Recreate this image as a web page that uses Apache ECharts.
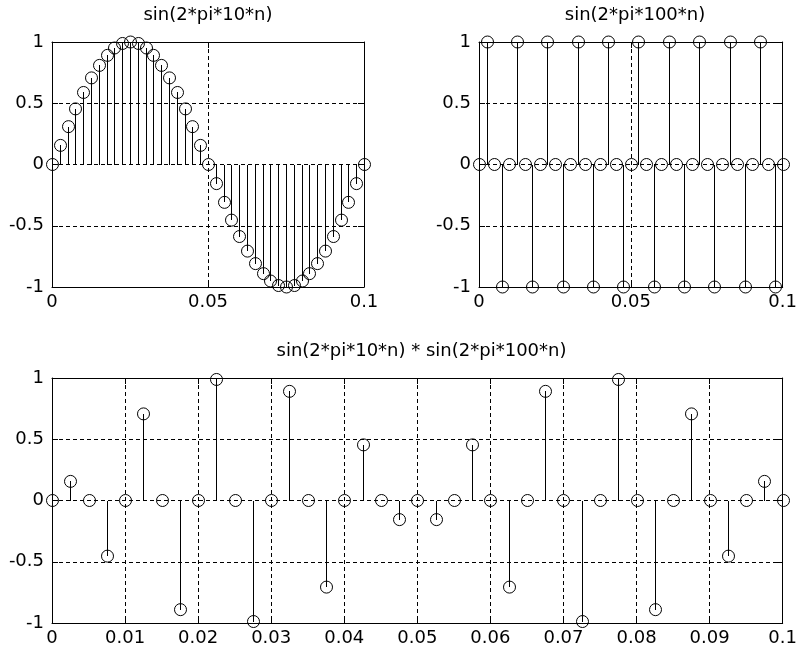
<!DOCTYPE html>
<html>
<head>
<meta charset="utf-8">
<script src="https://cdn.jsdelivr.net/npm/echarts@6/dist/echarts.min.js"></script>
<style>
  html, body { margin: 0; padding: 0; background: #fff; }
  #main { width: 800px; height: 655px; }
</style>
</head>
<body>
<div id="main"></div>
<script>
// sample times n (s)
var n = [0, 0.0025, 0.005, 0.0075, 0.01, 0.0125, 0.015, 0.0175, 0.02, 0.0225,
    0.025, 0.0275, 0.03, 0.0325, 0.035, 0.0375, 0.04, 0.0425, 0.045, 0.0475,
    0.05, 0.0525, 0.055, 0.0575, 0.06, 0.0625, 0.065, 0.0675, 0.07, 0.0725,
    0.075, 0.0775, 0.08, 0.0825, 0.085, 0.0875, 0.09, 0.0925, 0.095, 0.0975, 0.1];

// sin(2*pi*10*n)
var sin10 = [0, 0.156, 0.309, 0.454, 0.588, 0.707, 0.809, 0.891, 0.951, 0.988,
    1, 0.988, 0.951, 0.891, 0.809, 0.707, 0.588, 0.454, 0.309, 0.156,
    0, -0.156, -0.309, -0.454, -0.588, -0.707, -0.809, -0.891, -0.951, -0.988,
    -1, -0.988, -0.951, -0.891, -0.809, -0.707, -0.588, -0.454, -0.309, -0.156, 0];

// sin(2*pi*100*n)
var sin100 = [0, 1, 0, -1, 0, 1, 0, -1, 0, 1,
    0, -1, 0, 1, 0, -1, 0, 1, 0, -1,
    0, 1, 0, -1, 0, 1, 0, -1, 0, 1,
    0, -1, 0, 1, 0, -1, 0, 1, 0, -1, 0];

// sin(2*pi*10*n) * sin(2*pi*100*n)
var prod = [0, 0.156, 0, -0.454, 0, 0.707, 0, -0.891, 0, 0.988,
    0, -0.988, 0, 0.891, 0, -0.707, 0, 0.454, 0, -0.156,
    0, -0.156, 0, 0.454, 0, -0.707, 0, 0.891, 0, -0.988,
    0, 0.988, 0, -0.891, 0, 0.707, 0, -0.454, 0, 0.156, 0];

var titles = ['sin(2*pi*10*n)', 'sin(2*pi*100*n)', 'sin(2*pi*10*n) * sin(2*pi*100*n)'];
var xSteps = [0.05, 0.05, 0.01];

var FONT = 'DejaVu Sans';
var FSIZE = 18;

function pairs(xs, ys) {
    var out = [];
    for (var i = 0; i < xs.length; i++) {
        out.push([xs[i], ys[i]]);
    }
    return out;
}

function crisp(v) {
    return Math.round(v) + 0.5;
}

//stem: line from 0 to value, open circle at value
function renderStem(params, api) {
    var p0 = api.coord([api.value(0), 0]);
    var p1 = api.coord([api.value(0), api.value(1)]);
    var x = crisp(p1[0]);
    return {
        type: 'group',
        children: [
            {
                type: 'line',
                shape: {x1: x, y1: Math.round(p0[1]), x2: x, y2: Math.round(p1[1])},
                style: {stroke: '#000', lineWidth: 1}
            },
            {
                type: 'circle',
                shape: {cx: x, cy: p1[1], r: 6},
                style: {fill: 'none', stroke: '#000', lineWidth: 1}
            }
        ]
    };
}

var dashed = {show: true, lineStyle: {color: '#000', width: 1, type: [4, 3]}};
var solid = {show: true, onZero: false, lineStyle: {color: '#000', width: 1}};
var tick = {show: true, inside: true, length: 6, lineStyle: {color: '#000'}};

function xAxes(grid, step) {
    return [
        {
            type: 'value', gridIndex: grid, position: 'bottom',
            min: 0, max: 0.1, interval: step,
            axisLine: solid,
            axisTick: tick,
            axisLabel: {color: '#000', fontFamily: FONT, fontSize: FSIZE, margin: 6},
            splitLine: dashed
        },
        {
            type: 'value', gridIndex: grid, position: 'top',
            min: 0, max: 0.1, interval: step,
            axisLine: solid,
            axisTick: tick,
            axisLabel: {show: false},
            splitLine: {show: false}
        }
    ];
}

function yAxes(grid) {
    return [
        {
            type: 'value', gridIndex: grid, position: 'left',
            min: -1, max: 1, interval: 0.5,
            axisLine: solid,
            axisTick: tick,
            axisLabel: {color: '#000', fontFamily: FONT, fontSize: FSIZE, margin: 8},
            splitLine: dashed
        },
        {
            type: 'value', gridIndex: grid, position: 'right',
            min: -1, max: 1, interval: 0.5,
            axisLine: solid,
            axisTick: tick,
            axisLabel: {show: false},
            splitLine: {show: false}
        }
    ];
}

var grids = [
    {left: 52, top: 42, width: 312, height: 245},
    {left: 479, top: 42, width: 312, height: 245},
    {left: 52, top: 378, width: 739, height: 245}
];

var xAxis = [], yAxis = [], series = [], title = [];
var values = [sin10, sin100, prod];
for (var g = 0; g < 3; g++) {
    xAxis = xAxis.concat(xAxes(g, xSteps[g]));
    yAxis = yAxis.concat(yAxes(g));
    series.push({
        type: 'custom',
        name: titles[g],
        xAxisIndex: g * 2,
        yAxisIndex: g * 2,
        renderItem: renderStem,
        clip: false,
        data: pairs(n, values[g])
    });
    title.push({
        text: titles[g],
        left: grids[g].left + grids[g].width / 2,
        top: grids[g].top - 36,
        textAlign: 'center',
        padding: 0,
        textStyle: {color: '#000', fontFamily: FONT, fontSize: FSIZE, fontWeight: 'normal'}
    });
}

var chart = echarts.init(document.getElementById('main'));
chart.setOption({
    backgroundColor: '#fff',
    animation: false,
    title: title,
    grid: grids,
    xAxis: xAxis,
    yAxis: yAxis,
    series: series
});
</script>
</body>
</html>
